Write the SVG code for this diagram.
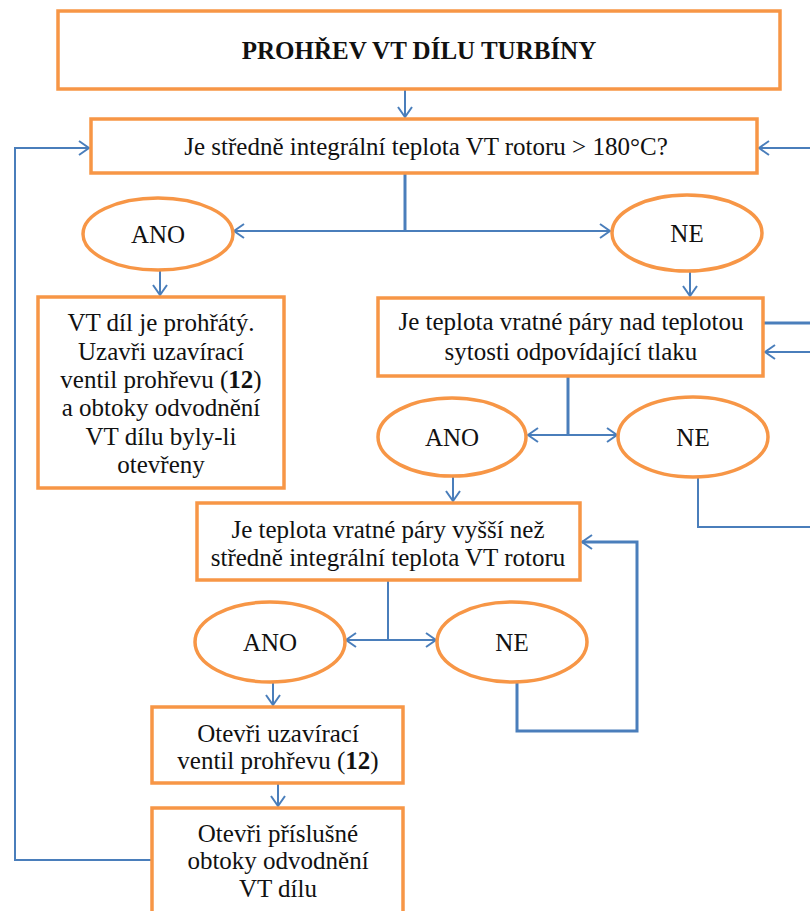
<svg xmlns="http://www.w3.org/2000/svg" width="810" height="911" viewBox="0 0 810 911">
<style>
.box{fill:#fff;stroke:#F79646;stroke-width:3.5}
.t{font-family:'Liberation Serif','DejaVu Serif',serif;font-size:25px;fill:#111;text-anchor:middle}
.tb{font-weight:bold}
.c{fill:none;stroke:#4A7EBB;stroke-width:2}
.k{stroke-width:3}
</style>
<defs>
<marker id="a" viewBox="0 0 12 16" refX="11" refY="8" markerWidth="12" markerHeight="16" markerUnits="userSpaceOnUse" orient="auto">
<path d="M1,1 L11,8 L1,15" fill="none" stroke="#4A7EBB" stroke-width="2"/>
</marker>
</defs>
<rect width="810" height="911" fill="#fff"/>
<g id="connectors">
<path class="c" d="M405,89 V117" marker-end="url(#a)"/>
<path class="c" d="M152,860 H15 V148 H89" marker-end="url(#a)"/>
<path class="c" d="M810,148 H759" marker-end="url(#a)"/>
<path class="c k" d="M405,173 V231"/>
<path class="c" d="M405,231 H234" marker-end="url(#a)"/>
<path class="c" d="M405,231 H610" marker-end="url(#a)"/>
<path class="c" d="M160,270 V295" marker-end="url(#a)"/>
<path class="c" d="M690,272 V296" marker-end="url(#a)"/>
<path class="c k" d="M763,323 H810"/>
<path class="c" d="M810,352 H765" marker-end="url(#a)"/>
<path class="c k" d="M568,376 V435"/>
<path class="c" d="M568,435 H528" marker-end="url(#a)"/>
<path class="c" d="M568,435 H617" marker-end="url(#a)"/>
<path class="c" d="M698,478 V527 H810"/>
<path class="c" d="M453,477 V501" marker-end="url(#a)"/>
<path class="c" d="M388,580 V640"/>
<path class="c" d="M388,640 H346" marker-end="url(#a)"/>
<path class="c" d="M388,640 H436" marker-end="url(#a)"/>
<path class="c k" d="M517,682 V731 H637 V542 H582" marker-end="url(#a)"/>
<path class="c" d="M273,682 V705" marker-end="url(#a)"/>
<path class="c" d="M278,783 V806" marker-end="url(#a)"/>
</g>
<g id="title">
<rect class="box" x="58" y="11" width="722" height="78"/>
<text class="t tb" x="419" y="59">PROHŘEV VT DÍLU TURBÍNY</text>
</g>
<g id="q1">
<rect class="box" x="91" y="119" width="666" height="54"/>
<text class="t" x="426" y="155">Je středně integrální teplota VT rotoru &gt; 180°C?</text>
</g>
<g id="ano1">
<ellipse class="box" cx="158" cy="234" rx="75" ry="36"/>
<text class="t" x="158" y="243">ANO</text>
</g>
<g id="ne1">
<ellipse class="box" cx="687" cy="233" rx="75" ry="38"/>
<text class="t" x="687" y="242">NE</text>
</g>
<g id="hot">
<rect class="box" x="38" y="297" width="246" height="191"/>
<text class="t" x="161" y="331">VT díl je prohřátý.</text>
<text class="t" x="161" y="360">Uzavři uzavírací</text>
<text class="t" x="161" y="388">ventil prohřevu (<tspan class="tb">12</tspan>)</text>
<text class="t" x="161" y="416">a obtoky odvodnění</text>
<text class="t" x="161" y="445">VT dílu byly-li</text>
<text class="t" x="161" y="473">otevřeny</text>
</g>
<g id="q2">
<rect class="box" x="378" y="298" width="385" height="78"/>
<text class="t" x="571" y="330">Je teplota vratné páry nad teplotou</text>
<text class="t" x="571" y="360">sytosti odpovídající tlaku</text>
</g>
<g id="ano2">
<ellipse class="box" cx="452" cy="437" rx="74" ry="39"/>
<text class="t" x="452" y="446">ANO</text>
</g>
<g id="ne2">
<ellipse class="box" cx="693" cy="437" rx="75" ry="40"/>
<text class="t" x="693" y="446">NE</text>
</g>
<g id="q3">
<rect class="box" x="197" y="503" width="383" height="77"/>
<text class="t" x="388" y="538">Je teplota vratné páry vyšší než</text>
<text class="t" x="388" y="566">středně integrální teplota VT rotoru</text>
</g>
<g id="ano3">
<ellipse class="box" cx="270" cy="642" rx="75" ry="40"/>
<text class="t" x="270" y="651">ANO</text>
</g>
<g id="ne3">
<ellipse class="box" cx="512" cy="642" rx="75" ry="40"/>
<text class="t" x="512" y="651">NE</text>
</g>
<g id="q4">
<rect class="box" x="152" y="707" width="251" height="76"/>
<text class="t" x="278" y="742">Otevři uzavírací</text>
<text class="t" x="278" y="769">ventil prohřevu (<tspan class="tb">12</tspan>)</text>
</g>
<g id="q5">
<rect class="box" x="152" y="808" width="251" height="110"/>
<text class="t" x="278" y="842">Otevři příslušné</text>
<text class="t" x="278" y="869">obtoky odvodnění</text>
<text class="t" x="278" y="897">VT dílu</text>
</g>
</svg>
